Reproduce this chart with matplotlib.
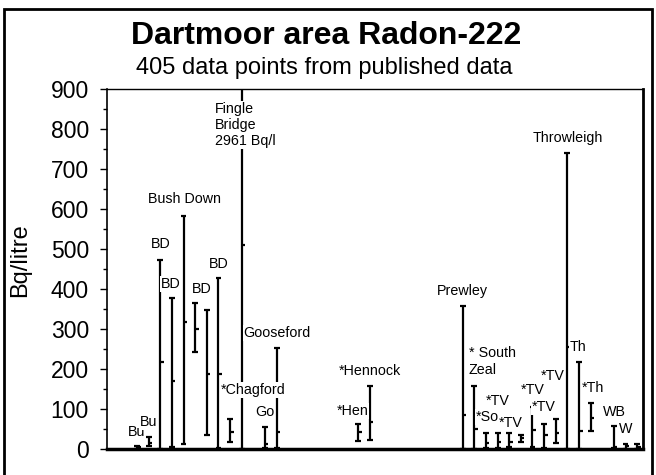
import matplotlib.pyplot as plt
from matplotlib.patches import Rectangle
from matplotlib.ticker import MultipleLocator

plt.rcParams["font.family"] = ["Liberation Sans", "DejaVu Sans"]

# one entry per sampling group, left to right (Bq/litre)
slot = [2, 3, 4, 5, 6, 7, 8, 9, 10, 11, 13, 14, 21, 22,
        30, 31, 32, 33, 34, 35, 36, 37, 38, 39, 40, 41, 43, 44, 45]
rn_min = [0, 8, 0, 5, 12, 242, 35, 2, 17, 0, 2, 2, 20, 22,
          0, 0, 2, 3, 5, 18, 5, 2, 15, 0, 0, 45, 2, 0, 0]
rn_max = [8, 30, 472, 378, 583, 365, 348, 428, 75, 2961, 55, 252, 62, 158,
          358, 158, 40, 40, 40, 35, 105, 62, 75, 740, 218, 115, 58, 12, 12]
rn_mean = [4, 15, 218, 170, 318, 300, 188, 188, 42, 510, 12, 42, 43, 68,
           85, 50, 15, 18, 18, 27, 48, 35, 40, 255, 45, 78, 5, 8, 5]

# site labels: text, x (slot units), y (Bq/l), horizontal alignment
labels = [
    ("Bu", 2.0, 42, "center"),
    ("Bu", 3.0, 67, "center"),
    ("BD", 4.0, 512, "center"),
    ("BD", 4.9, 412, "center"),
    ("Bush Down", 6.1, 625, "center"),
    ("BD", 7.6, 400, "center"),
    ("BD", 9.0, 462, "center"),
    ("*Chagford", 12.0, 148, "center"),
    ("Go", 12.95, 92, "center"),
    ("Gooseford", 14.05, 290, "center"),
    ("*Hennock", 22.0, 195, "center"),
    ("*Hen", 20.5, 95, "center"),
    ("Prewley", 30.0, 395, "center"),
    ("* South\nZeal", 30.5, 218, "left"),
    ("*So", 31.15, 80, "left"),
    ("*TV", 33.05, 120, "center"),
    ("*TV", 34.1, 65, "center"),
    ("*TV", 36.0, 148, "center"),
    ("*TV", 37.0, 105, "center"),
    ("*TV", 37.7, 182, "center"),
    ("Throwleigh", 39.0, 778, "center"),
    ("Th", 39.2, 255, "left"),
    ("*Th", 40.2, 152, "left"),
    ("WB", 42.07, 92, "left"),
    ("W", 43.4, 50, "left"),
]

fig = plt.figure(figsize=(6.56, 4.75), dpi=100)
ax = fig.add_axes([107 / 656, 1 - 449 / 475, 536 / 656, 360 / 475])

cap = 0.25
stub = 0.3
lw = 1.6
ax.vlines(slot, rn_min, rn_max, color="black", lw=lw, zorder=2)
ax.hlines(rn_max, [s - cap for s in slot], [s + cap for s in slot], color="black", lw=lw, zorder=2)
ax.hlines(rn_min, [s - cap for s in slot], [s + cap for s in slot], color="black", lw=lw, zorder=2)
ax.hlines(rn_mean, slot, [s + stub for s in slot], color="black", lw=lw, zorder=2)

for text, x, y, ha in labels:
    ax.text(x, y, text, ha=ha, va="center", fontsize=10.3, zorder=3,
            linespacing=1.25,
            bbox=dict(facecolor="white", edgecolor="none", pad=0.5))

ax.text(8.7, 868, "Fingle\nBridge\n2961 Bq/l", ha="left", va="top", fontsize=10.3,
        linespacing=1.2, zorder=3,
        bbox=dict(facecolor="white", edgecolor="none", pad=0.5))

ax.set_xlim(-0.58, 45.5)
ax.set_ylim(0, 900)
ax.set_xticks([])
ax.yaxis.set_major_locator(MultipleLocator(100))
ax.yaxis.set_minor_locator(MultipleLocator(50))
ax.tick_params(axis="y", which="major", labelsize=16.5, length=5, width=1, pad=8)
ax.tick_params(axis="y", which="minor", length=3, width=1)

ax.spines["left"].set_linewidth(1.2)
ax.spines["top"].set_linewidth(1.0)
ax.spines["right"].set_linewidth(2.0)
ax.spines["bottom"].set_linewidth(2.5)

fig.text(20 / 656, 1 - 260 / 475, "Bq/litre", rotation=90, ha="center", va="center", fontsize=17)
fig.text(0.497, 1 - 36 / 475, "Dartmoor area Radon-222", ha="center", va="center",
         fontsize=23, fontweight="bold")
fig.text(0.494, 1 - 68 / 475, "405 data points from published data", ha="center", va="center",
         fontsize=17)

fig.add_artist(Rectangle((4 / 656, -0.05), 648 / 656, 1.05 - 9 / 475,
                         transform=fig.transFigure, fill=False, edgecolor="black", lw=2))

fig.savefig("out.png", dpi=100)
